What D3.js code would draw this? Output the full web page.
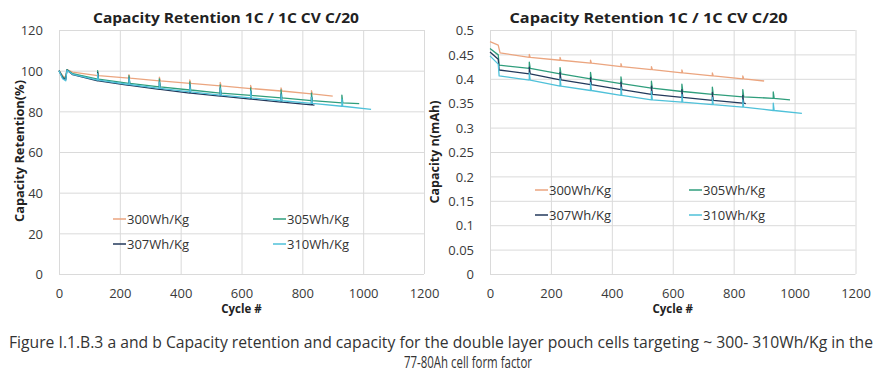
<!DOCTYPE html>
<html>
<head>
<meta charset="utf-8">
<script src="https://cdn.jsdelivr.net/npm/d3@7"></script>
<style>
  body { margin:0; background:#fff; }
  svg text { font-family: "Open Sans", "Noto Sans", sans-serif; }
</style>
</head>
<body>
<script>

//******************************************************************************
// Data ************************************************************************

    var cycleTicks = [0, 200, 400, 600, 800, 1000, 1200];
    var retentionTicks = [0, 20, 40, 60, 80, 100, 120];
    var capacityTicks = [0, 0.05, 0.1, 0.15, 0.2, 0.25, 0.3, 0.35, 0.4, 0.45, 0.5];

    var seriesNames = ["300Wh/Kg", "305Wh/Kg", "307Wh/Kg", "310Wh/Kg"];

    // [cycle, retention %] - the small spikes are the C/20 check-up cycles
    var retention300 = [[0,100],[12,97.5],[22,96.5],[26,100.5],[45,99.3],[127,97.6],[127,99.5],[130,97.6],[230,96.3],[230,98],[233,96.3],
        [330,95],[330,96.8],[333,95],[430,93.8],[430,95.5],[433,93.8],[530,92.5],[530,94.2],[533,92.5],[630,91.2],[630,92.8],[633,91.2],
        [730,90],[730,91.5],[733,90],[830,88.6],[830,90.2],[833,88.6],[900,87.5]];
    var retention305 = [[0,100],[12,97],[22,96],[26,100.5],[45,98.5],[127,95.8],[127,100],[130,95.8],[230,93.8],[230,97.5],[233,93.8],
        [330,92],[330,96],[333,92],[430,90.5],[430,94.5],[433,90.5],[530,89],[530,93],[533,89],[630,87.8],[630,91.5],[633,87.8],
        [730,86.6],[730,90.5],[733,86.6],[830,85.3],[830,89],[833,85.3],[930,84.2],[930,88],[933,84.2],[987,83.8]];
    var retention307 = [[0,100],[12,96.5],[22,95.5],[26,100.3],[45,98],[127,95],[127,99],[130,95],[230,92.8],[230,96.5],[233,92.8],
        [330,90.8],[330,94.5],[333,90.8],[430,89],[430,93],[433,89],[530,87.5],[530,91.5],[533,87.5],[630,86],[630,90],[633,86],
        [730,84.5],[730,88.5],[733,84.5],[830,83.2],[830,87],[833,83.2],[840,83]];
    var retention310 = [[0,100],[12,96],[22,95],[26,100.2],[45,98.2],[127,95.3],[127,98.5],[130,95.3],[230,93.2],[230,96.5],[233,93.2],
        [330,91.3],[330,94.5],[333,91.3],[430,89.6],[430,93],[433,89.6],[530,88],[530,91.5],[533,88],[630,86.6],[630,90],[633,86.6],
        [730,85.2],[730,88.5],[733,85.2],[830,83.9],[830,87],[833,83.9],[930,82.5],[930,86],[933,82.5],[1026,81]];

    // [cycle, capacity]
    var capacity300 = [[0,0.476],[27,0.469],[33,0.453],[129,0.444],[129,0.450],[132,0.444],[230,0.438],[230,0.444],[233,0.438],
        [330,0.432],[330,0.438],[333,0.432],[430,0.425],[430,0.431],[433,0.425],[530,0.419],[530,0.425],[533,0.419],
        [630,0.412],[630,0.418],[633,0.412],[730,0.406],[730,0.412],[733,0.406],[830,0.400],[830,0.406],[833,0.400],[900,0.3955]];
    var capacity305 = [[0,0.462],[27,0.449],[30,0.428],[129,0.4215],[129,0.434],[132,0.4215],[230,0.410],[230,0.423],[233,0.410],
        [330,0.400],[330,0.413],[333,0.400],[430,0.390],[430,0.404],[433,0.390],[530,0.381],[530,0.395],[533,0.381],
        [630,0.374],[630,0.389],[633,0.374],[730,0.368],[730,0.383],[733,0.368],[830,0.363],[830,0.378],[833,0.363],
        [930,0.360],[930,0.373],[933,0.360],[985,0.357]];
    var capacity307 = [[0,0.455],[27,0.440],[30,0.418],[129,0.410],[129,0.424],[132,0.410],[230,0.398],[230,0.413],[233,0.398],
        [330,0.388],[330,0.403],[333,0.388],[430,0.378],[430,0.393],[433,0.378],[530,0.368],[530,0.385],[533,0.368],
        [630,0.362],[630,0.378],[633,0.362],[730,0.356],[730,0.372],[733,0.356],[830,0.350],[830,0.366],[833,0.350],[840,0.349]];
    var capacity310 = [[0,0.447],[27,0.430],[30,0.406],[129,0.3975],[129,0.412],[132,0.3975],[230,0.385],[230,0.401],[233,0.385],
        [330,0.376],[330,0.392],[333,0.376],[430,0.366],[430,0.383],[433,0.366],[530,0.357],[530,0.374],[533,0.357],
        [630,0.352],[630,0.368],[633,0.352],[730,0.347],[730,0.362],[733,0.347],[830,0.342],[830,0.357],[833,0.342],
        [930,0.335],[930,0.350],[933,0.335],[1024,0.329]];


//******************************************************************************
// Settings ********************************************************************

    var windowSettings = {
        width : 882,//px
        height : 375,//px
    };

    var colors = ["#EBA57F", "#2F9E7C", "#23395B", "#4FC1D9"]; // 300, 305, 307, 310

    var leftChart = {
        left : 59, right : 424, top : 30, bottom : 274,
        yMax : 120, yTicks : retentionTicks, format : d3.format("d"),
        series : [retention300, retention305, retention307, retention310],
        title : "Capacity Retention 1C / 1C CV C/20", titleX : 226, titleLen : 266,
        yTitle : "Capacity Retention(%)", yTitleX : 24, yTitleY : 151, yTitleLen : 142,
        legendX : [113, 273], legendY : [219, 244],
    };

    var rightChart = {
        left : 490, right : 855.5, top : 30, bottom : 274,
        yMax : 0.5, yTicks : capacityTicks, format : d3.format("~g"),
        series : [capacity300, capacity305, capacity307, capacity310],
        title : "Capacity Retention 1C / 1C CV C/20", titleX : 648.5, titleLen : 278,
        yTitle : "Capacity n(mAh)", yTitleX : 439, yTitleY : 152, yTitleLen : 103,
        legendX : [535, 689], legendY : [190, 215],
    };


//******************************************************************************
// Initialization **************************************************************

    var svg = d3.select("body").append("svg")
        .attr("width", windowSettings.width)
        .attr("height", windowSettings.height);

    svg.append("rect").attr("width", windowSettings.width).attr("height", windowSettings.height).attr("fill", "#fff");

    drawChart(leftChart);
    drawChart(rightChart);
    drawCaption();


//******************************************************************************
// Functions *******************************************************************

    function drawChart(c){ // one panel : grid, axes, lines, legend

        var x = d3.scaleLinear().domain([0, 1200]).range([c.left, c.right]);
        var y = d3.scaleLinear().domain([0, c.yMax]).range([c.bottom, c.top]);
        var g = svg.append("g");

        // grid
        g.selectAll(".hgrid").data(c.yTicks).enter().append("line")
            .attr("x1", c.left).attr("x2", c.right)
            .attr("y1", d => y(d) + 0.5).attr("y2", d => y(d) + 0.5)
            .attr("stroke", "#DADADA").attr("stroke-width", 1);
        g.selectAll(".vgrid").data(cycleTicks).enter().append("line")
            .attr("x1", d => x(d) + 0.5).attr("x2", d => x(d) + 0.5)
            .attr("y1", c.top).attr("y2", c.bottom)
            .attr("stroke", "#DADADA").attr("stroke-width", 1);

        // axes (labels only, domain hidden)
        var yAxis = g.append("g").attr("transform", "translate(" + (c.left - 16) + ",0)")
            .call(d3.axisLeft(y).tickValues(c.yTicks).tickFormat(c.format).tickSize(0).tickPadding(0));
        var xAxis = g.append("g").attr("transform", "translate(0," + c.bottom + ")")
            .call(d3.axisBottom(x).tickValues(cycleTicks).tickFormat(d3.format("d")).tickSize(0).tickPadding(0));
        [xAxis, yAxis].forEach(a => {
            a.select(".domain").remove();
            a.selectAll("text").attr("font-family", "'Open Sans', sans-serif").attr("font-size", 13).attr("fill", "#3A3A3A");
        });
        yAxis.selectAll("text").attr("dy", "0.36em");
        xAxis.selectAll("text").attr("dy", 0).attr("y", 24);

        // series
        var line = d3.line().x(d => x(d[0])).y(d => y(d[1]));
        c.series.forEach((s, i) => {
            g.append("path").datum(s)
                .attr("d", line)
                .attr("fill", "none")
                .attr("stroke", colors[i])
                .attr("stroke-width", 1.3)
                .attr("stroke-linejoin", "round");
        });

        // titles
        g.append("text").text(c.title)
            .attr("x", c.titleX).attr("y", 23)
            .attr("text-anchor", "middle").attr("font-weight", "bold").attr("font-size", 14.5)
            .attr("fill", "#222").attr("textLength", c.titleLen).attr("lengthAdjust", "spacingAndGlyphs");
        g.append("text").text("Cycle #")
            .attr("x", (c.left + c.right) / 2).attr("y", 313)
            .attr("text-anchor", "middle").attr("font-weight", "bold").attr("font-size", 11.5).attr("fill", "#222");
        g.append("text").text(c.yTitle)
            .attr("transform", "translate(" + c.yTitleX + "," + c.yTitleY + ") rotate(-90)")
            .attr("text-anchor", "middle").attr("font-weight", "bold").attr("font-size", 12.5)
            .attr("fill", "#222").attr("textLength", c.yTitleLen).attr("lengthAdjust", "spacingAndGlyphs");

        // legend, 2 x 2
        seriesNames.forEach((name, i) => {
            var lx = c.legendX[i % 2], ly = c.legendY[Math.floor(i / 2)];
            g.append("line").attr("x1", lx).attr("x2", lx + 13).attr("y1", ly).attr("y2", ly)
                .attr("stroke", colors[i]).attr("stroke-width", 1.5);
            g.append("text").text(name)
                .attr("x", lx + 14).attr("y", ly + 5)
                .attr("font-size", 13).attr("fill", "#333");
        });
    }


    function drawCaption(){ // figure caption below both panels
        var f = "'Liberation Sans Narrow', 'DejaVu Sans Condensed', sans-serif";
        svg.append("text")
            .text("Figure I.1.B.3 a and b Capacity retention and capacity for the double layer pouch cells targeting ~ 300- 310Wh/Kg in the")
            .attr("x", 441).attr("y", 348).attr("text-anchor", "middle")
            .attr("font-family", f).attr("font-size", 15.5).attr("fill", "#333")
            .attr("textLength", 864).attr("lengthAdjust", "spacingAndGlyphs");
        svg.append("text")
            .text("77-80Ah cell form factor")
            .attr("x", 468).attr("y", 368).attr("text-anchor", "middle")
            .attr("font-family", f).attr("font-size", 15.5).attr("fill", "#333")
            .attr("textLength", 128).attr("lengthAdjust", "spacingAndGlyphs");
    }

</script>
</body>
</html>
